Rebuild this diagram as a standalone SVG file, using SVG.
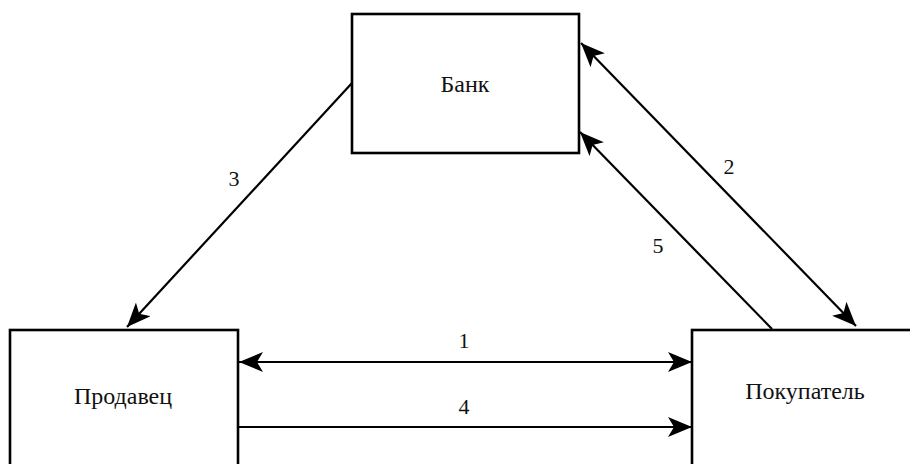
<svg xmlns="http://www.w3.org/2000/svg" width="910" height="464" viewBox="0 0 910 464">
<style>
.box{fill:#fff;stroke:#000;stroke-width:2.6}
.c{stroke:#000;stroke-width:2.2;fill:none}
</style>
<defs>
<marker id="ah" viewBox="0 0 24 20" refX="24" refY="10" markerWidth="24" markerHeight="20" markerUnits="userSpaceOnUse" orient="auto-start-reverse">
<path d="M0,0 L24,10 L0,20 L6,10 z" fill="#000"/>
</marker>
</defs>
<rect width="910" height="464" fill="#fff"/>
<g font-family="Liberation Serif, serif" font-size="24" fill="#111" text-anchor="middle">
<g id="bank"><rect class="box" x="352" y="14" width="227" height="139"/><text x="465" y="92">Банк</text></g>
<g id="seller"><rect class="box" x="10" y="330" width="228" height="160"/><text x="123" y="404">Продавец</text></g>
<g id="buyer"><rect class="box" x="692" y="330" width="240" height="160"/><text x="805" y="399">Покупатель</text></g>
</g>
<g id="connectors">
<line class="c" x1="239" y1="362" x2="692" y2="362" marker-start="url(#ah)" marker-end="url(#ah)"/>
<line class="c" x1="238" y1="427" x2="692" y2="427" marker-end="url(#ah)"/>
<line class="c" x1="581" y1="43" x2="856" y2="326" marker-start="url(#ah)" marker-end="url(#ah)"/>
<line class="c" x1="772" y1="329" x2="580" y2="132" marker-end="url(#ah)"/>
<line class="c" x1="352" y1="83" x2="127" y2="327" marker-end="url(#ah)"/>
<g font-family="Liberation Serif, serif" font-size="22" fill="#111" text-anchor="middle">
<text x="464" y="348">1</text>
<text x="729" y="174">2</text>
<text x="234" y="186">3</text>
<text x="464" y="414">4</text>
<text x="658" y="253">5</text>
</g>
</g>
</svg>
